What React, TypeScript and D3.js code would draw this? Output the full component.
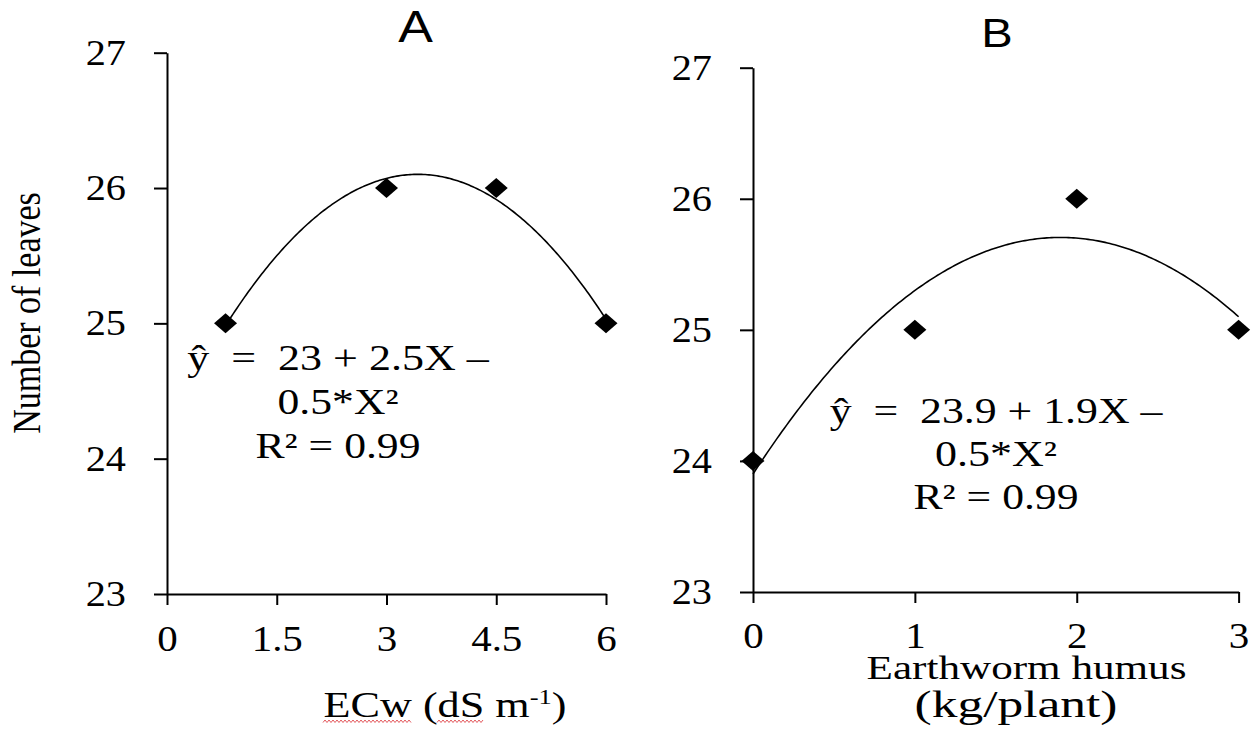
import React, { useEffect, useRef } from "react";
import * as d3 from "d3";

// A: irrigation water salinity (ECw)
const ecwLevels = [0.8, 3, 4.5, 6];
const leavesByEcw = [25, 26, 26, 25];
// B: earthworm humus dose
const humusDoses = [0, 1, 2, 3];
const leavesByHumus = [24, 25, 26, 25];

const leafTicks = [23, 24, 25, 26, 27];
const ecwTicks = [0, 1.5, 3, 4.5, 6];
const humusTicks = [0, 1, 2, 3];

const equationA = ["ŷ  =  23 + 2.5X –", "0.5*X²", "R² = 0.99"];
const equationB = ["ŷ  =  23.9 + 1.9X –", "0.5*X²", "R² = 0.99"];

const SERIF = "'Liberation Serif', 'Times New Roman', serif";
const SANS = "'Liberation Sans', Arial, sans-serif";

// least squares quadratic (what the spreadsheet trendline does)
function fitQuadratic(xs: number[], ys: number[]) {
  const s = (p: number) => d3.sum(xs, (x) => x ** p);
  const t = (p: number) => d3.sum(xs, (x, i) => x ** p * ys[i]);
  const m = [
    [xs.length, s(1), s(2), t(0)],
    [s(1), s(2), s(3), t(1)],
    [s(2), s(3), s(4), t(2)],
  ];
  for (let i = 0; i < 3; i++) {
    for (let k = i + 1; k < 3; k++) {
      const f = m[k][i] / m[i][i];
      for (let j = i; j < 4; j++) m[k][j] -= f * m[i][j];
    }
  }
  const c = [0, 0, 0];
  for (let i = 2; i >= 0; i--) {
    let v = m[i][3];
    for (let j = i + 1; j < 3; j++) v -= m[i][j] * c[j];
    c[i] = v / m[i][i];
  }
  return (x: number) => c[0] + c[1] * x + c[2] * x * x;
}

// stretch a text horizontally so that it spans `width` px
function fitWidth(text: any, width: number) {
  const w = text.node().getBBox().width;
  text.attr("transform", `${text.attr("transform")} scale(${width / w},1)`);
}

const panels = [
  {
    title: "A", titleX: 415.5, titleY: 41.7, titleSize: 44,
    xs: ecwLevels, ys: leavesByEcw, xTicks: ecwTicks, xDomain: [0, 6],
    left: 167, right: 606, top: 52.7, bottom: 594,
    yLabelEnd: 126, xLabelBaseline: 57,
    eq: equationA, eqX: 338, eqY: 370, eqStep: 44, eqWidths: [303, 121, 165],
  },
  {
    title: "B", titleX: 997, titleY: 46.7, titleSize: 40,
    xs: humusDoses, ys: leavesByHumus, xTicks: humusTicks, xDomain: [0, 3],
    left: 753, right: 1238.6, top: 67.7, bottom: 592,
    yLabelEnd: 712, xLabelBaseline: 56,
    eq: equationB, eqX: 996, eqY: 422.7, eqStep: 43.3, eqWidths: [334, 122, 165],
  },
];

export default function App() {
  const svgRef = useRef<SVGSVGElement>(null);

  useEffect(() => {
    const svg = d3.select(svgRef.current);
    svg.selectAll("*").remove();

    panels.forEach((p) => {
      const x = d3.scaleLinear().domain(p.xDomain).range([p.left, p.right]);
      const y = d3.scaleLinear().domain([23, 27]).range([p.bottom, p.top]);
      const g = svg.append("g");

      // y axis
      g.append("g")
        .attr("transform", `translate(${p.left},0)`)
        .call(
          d3.axisLeft(y).tickValues(leafTicks).tickSize(13).tickSizeOuter(0).tickFormat(d3.format("d"))
        )
        .call((a) => a.selectAll("path, line").attr("stroke", "#000").attr("stroke-width", 2))
        .call((a) =>
          a
            .selectAll("text")
            .attr("font-size", 36)
            .attr("font-family", SERIF)
            .attr("fill", "#000")
            .attr("x", -(p.left - p.yLabelEnd) / 1.12)
            .attr("transform", "scale(1.12,1)")
        );

      // x axis
      g.append("g")
        .attr("transform", `translate(0,${p.bottom})`)
        .call(
          d3
            .axisBottom(x)
            .tickValues(p.xTicks)
            .tickSize(11)
            .tickSizeOuter(0)
            .tickPadding(p.xLabelBaseline - 11 - 24.85)
            .tickFormat((d) => String(d))
        )
        .call((a) => a.selectAll("path, line").attr("stroke", "#000").attr("stroke-width", 2))
        .call((a) =>
          a
            .selectAll("text")
            .attr("font-size", 35)
            .attr("font-family", SERIF)
            .attr("fill", "#000")
            .attr("transform", "scale(1.17,1)")
        );

      // quadratic trendline
      const f = fitQuadratic(p.xs, p.ys);
      const [x0, x1] = d3.extent(p.xs) as [number, number];
      const samples = d3.range(0, 201).map((i) => x0 + ((x1 - x0) * i) / 200);
      g.append("path")
        .attr("fill", "none")
        .attr("stroke", "#000")
        .attr("stroke-width", 1.6)
        .attr(
          "d",
          d3
            .line<number>()
            .x((d) => x(d))
            .y((d) => y(f(d)))(samples)
        );

      // diamonds
      g.append("g")
        .selectAll("path")
        .data(p.xs.map((v, i) => [v, p.ys[i]]))
        .join("path")
        .attr("d", d3.symbol(d3.symbolSquare, 200)())
        .attr("fill", "#000")
        .attr("transform", (d) => `translate(${x(d[0])},${y(d[1])}) scale(1.15,1) rotate(45)`);

      // equation
      p.eq.forEach((line, i) => {
        const t = g
          .append("text")
          .attr("transform", `translate(${p.eqX},${p.eqY + i * p.eqStep})`)
          .attr("text-anchor", "middle")
          .attr("font-family", SERIF)
          .attr("font-size", 36)
          .style("white-space", "pre")
          .text(line);
        fitWidth(t, p.eqWidths[i]);
      });

      // panel letter
      g.append("text")
        .attr("transform", `translate(${p.titleX},${p.titleY}) scale(1.18,1)`)
        .attr("text-anchor", "middle")
        .attr("font-family", SANS)
        .attr("font-size", p.titleSize)
        .text(p.title);
    });

    // y axis title
    svg
      .append("text")
      .attr("transform", "translate(40,313) scale(1.15,1) rotate(-90)")
      .attr("text-anchor", "middle")
      .attr("font-family", SERIF)
      .attr("font-size", 34)
      .text("Number of leaves");

    // x title A
    const ecw = svg
      .append("text")
      .attr("transform", "translate(445,717)")
      .attr("text-anchor", "middle")
      .attr("font-family", SERIF)
      .attr("font-size", 35);
    ecw.append("tspan").text("ECw (dS m");
    ecw.append("tspan").attr("dy", -13).attr("font-size", 21).text("-1");
    ecw.append("tspan").attr("dy", 13).text(")");
    fitWidth(ecw, 243);

    // spell-check squiggles under the title
    const squiggle = (from: number, to: number) =>
      d3
        .line<number>()
        .x((d) => d)
        .y((d, i) => (i % 2 ? 720 : 722.5))(d3.range(from, to, 2));
    [[323, 413], [437, 484]].forEach(([a, b]) =>
      svg
        .append("path")
        .attr("d", squiggle(a, b))
        .attr("fill", "none")
        .attr("stroke", "#e0474c")
        .attr("stroke-width", 0.9)
    );

    // x title B
    const hum1 = svg
      .append("text")
      .attr("transform", "translate(1026.5,679)")
      .attr("text-anchor", "middle")
      .attr("font-family", SERIF)
      .attr("font-size", 34)
      .text("Earthworm humus");
    fitWidth(hum1, 320);
    const hum2 = svg
      .append("text")
      .attr("transform", "translate(1016,717)")
      .attr("text-anchor", "middle")
      .attr("font-family", SERIF)
      .attr("font-size", 37)
      .text("(kg/plant)");
    fitWidth(hum2, 203);
  }, []);

  return (
    <svg
      ref={svgRef}
      width={1252}
      height={732}
      style={{ position: "absolute", left: 0, top: 0, background: "#fff" }}
    />
  );
}
